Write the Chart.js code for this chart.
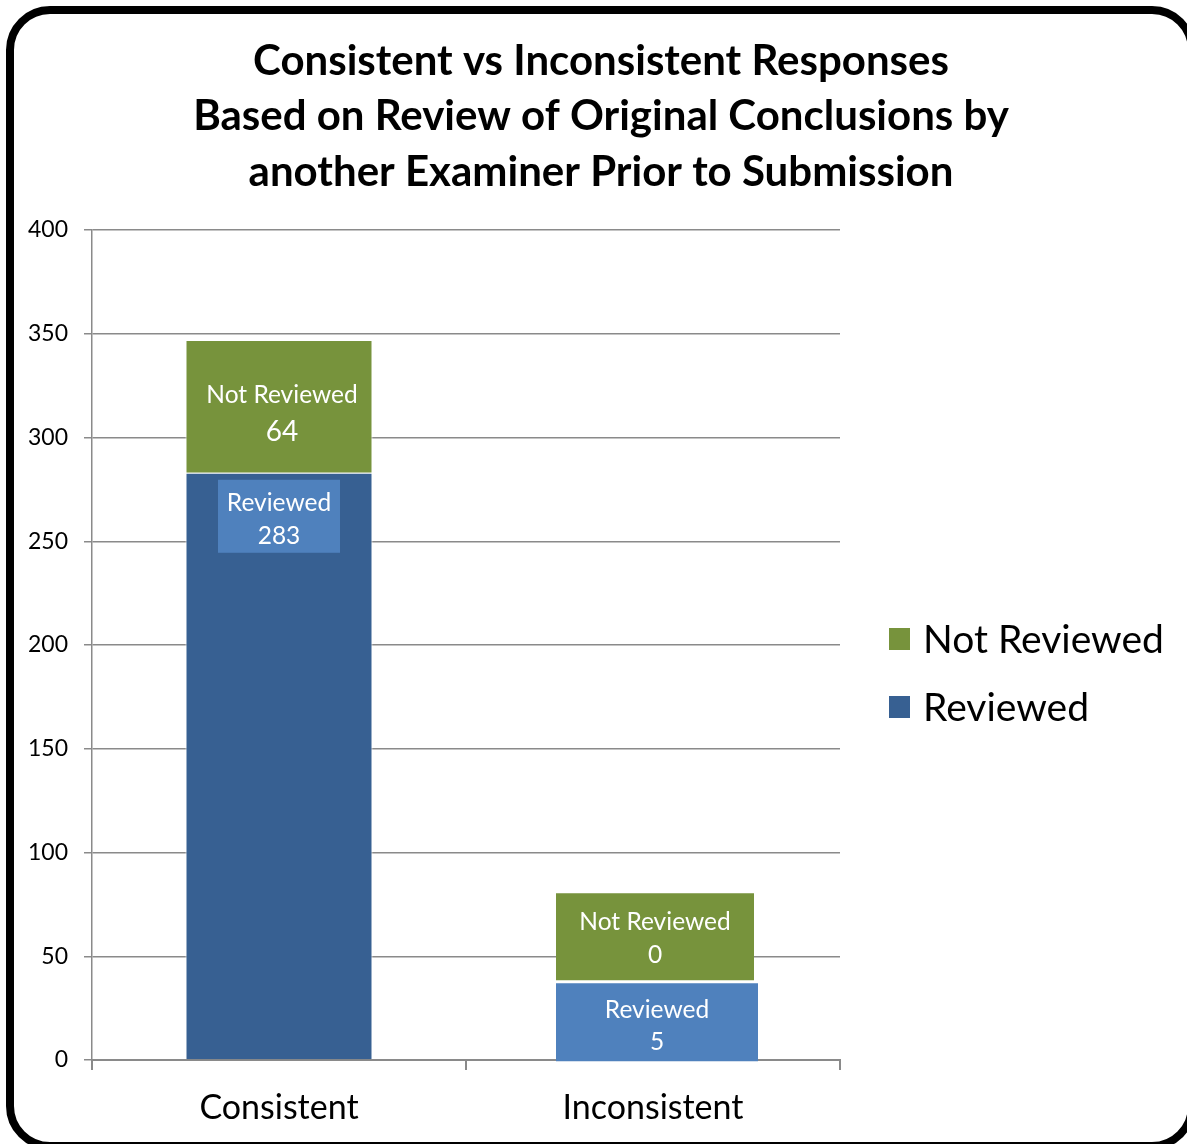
<!DOCTYPE html>
<html>
<head>
<meta charset="utf-8">
<script src="https://cdn.jsdelivr.net/npm/chart.js@4/dist/chart.umd.min.js"></script>
<style>
  html, body { margin: 0; padding: 0; background: #ffffff; overflow: hidden; }
  #frame { position: absolute; left: 6px; top: 6px; width: 1190px; height: 1144px; box-sizing: border-box;
           border: 8px solid #000; border-radius: 44px; background: #fff; }
  #c { position: absolute; left: 0; top: 0; }
</style>
</head>
<body>
<div id="frame"></div>
<canvas id="c" width="1187" height="1144"></canvas>
<script>
// ---- data ----
const categories = ['Consistent', 'Inconsistent'];
const seriesNames = ['Reviewed', 'Not Reviewed'];
const reviewed = [283, 5];
const notReviewed = [64, 0];
const yTicks = [0, 50, 100, 150, 200, 250, 300, 350, 400];
const titleLines = [
  'Consistent vs Inconsistent Responses',
  'Based on Review of Original Conclusions by',
  'another Examiner Prior to Submission'
];

const FONT = 'Lato, "Open Sans", sans-serif';
const COLORS = { reviewed: '#376092', notReviewed: '#77933C', reviewedLabel: '#4F81BD', grid: '#8a8a8a' };

const titlePlugin = {
  id: 'customTitle',
  afterDraw(chart) {
    const ctx = chart.ctx;
    ctx.save();
    ctx.fillStyle = '#000';
    ctx.font = 'bold 42px ' + FONT;
    ctx.textAlign = 'center';
    ctx.textBaseline = 'middle';
    titleLines.forEach((t, i) => ctx.fillText(t, 601, 61 + i * 55.5));
    ctx.restore();
  }
};

const legendPlugin = {
  id: 'customLegend',
  afterDraw(chart) {
    const ctx = chart.ctx;
    const area = chart.chartArea;
    const ds = chart.data.datasets.slice().reverse();
    const cy = (area.top + area.bottom) / 2;
    ctx.save();
    ctx.font = '39px ' + FONT;
    ctx.textBaseline = 'middle';
    ctx.textAlign = 'left';
    ds.forEach((d, i) => {
      const y = cy - 6 + i * 68;
      ctx.fillStyle = d.backgroundColor;
      ctx.fillRect(area.right + 49, y - 11, 21, 22);
      ctx.fillStyle = '#000';
      ctx.fillText(d.label, area.right + 83, y + 1);
    });
    ctx.restore();
  }
};

const labelPlugin = {
  id: 'barLabels',
  afterDatasetsDraw(chart) {
    const ctx = chart.ctx;
    ctx.save();
    ctx.textAlign = 'center';
    ctx.textBaseline = 'middle';
    const m0 = chart.getDatasetMeta(0).data; // Reviewed
    const m1 = chart.getDatasetMeta(1).data; // Not Reviewed
    const name0 = chart.data.datasets[0].label, name1 = chart.data.datasets[1].label;
    const v0 = chart.data.datasets[0].data, v1 = chart.data.datasets[1].data;
    const small = '24.5px ' + FONT;
    function twoLines(x, yc, a, b, fa, fb, gap) {
      ctx.fillStyle = '#fff';
      ctx.font = fa; ctx.fillText(a, x, yc - gap / 2);
      ctx.font = fb; ctx.fillText(String(b), x, yc + gap / 2);
    }
    // Consistent: Not Reviewed centred in its segment
    {
      const b = m1[0];
      twoLines(b.x + 3, (b.y + b.base) / 2 + 7, name1, v1[0], small, '28px ' + FONT, 37);
    }
    // Consistent: Reviewed in a box at the inside end
    {
      const b = m0[0];
      const w = 122, h = 73, top = b.y + 7;
      ctx.fillStyle = COLORS.reviewedLabel;
      ctx.fillRect(b.x - w / 2, top, w, h);
      twoLines(b.x, top + h / 2 + 3, name0, v0[0], small, small, 33);
    }
    // Inconsistent: Reviewed box sitting on the base
    let topBlue;
    {
      const b = m0[1];
      const w = 202, h = 78, bottom = b.base + 2;
      topBlue = bottom - h;
      ctx.fillStyle = COLORS.reviewedLabel;
      ctx.fillRect(b.x - 97, topBlue, w, h);
      twoLines(b.x + 4, topBlue + h / 2 + 4, name0, v0[1], small, small, 32);
    }
    // Inconsistent: Not Reviewed box above it
    {
      const b = m1[1];
      const w = 198, h = 87, bottom = topBlue - 3;
      ctx.fillStyle = COLORS.notReviewed;
      ctx.fillRect(b.x - 97, bottom - h, w, h);
      twoLines(b.x + 2, bottom - h + h / 2 + 2, name1, v1[1], small, small, 33);
    }
    ctx.restore();
  }
};

new Chart(document.getElementById('c'), {
  type: 'bar',
  data: {
    labels: categories,
    datasets: [
      { label: seriesNames[0], data: reviewed, backgroundColor: COLORS.reviewed, borderColor: '#ffffff', borderWidth: 1 },
      { label: seriesNames[1], data: notReviewed, backgroundColor: COLORS.notReviewed, borderColor: '#ffffff', borderWidth: 1 }
    ]
  },
  options: {
    responsive: false,
    animation: false,
    devicePixelRatio: 1,
    layout: { padding: { left: 0, top: 230, right: 347, bottom: 0 } },
    datasets: { bar: { barPercentage: 0.5, categoryPercentage: 1 } },
    plugins: { legend: { display: false }, title: { display: false }, tooltip: { enabled: false } },
    scales: {
      x: {
        stacked: true,
        offset: true,
        afterFit(s) { s.height = 84; },
        grid: { display: true, offset: true, drawOnChartArea: false, drawTicks: true, tickLength: 10, color: COLORS.grid, lineWidth: 2 },
        border: { display: true, color: COLORS.grid, width: 2 },
        ticks: { color: '#000', font: { family: FONT, size: 34 }, padding: 18 }
      },
      y: {
        stacked: true,
        min: 0, max: 400,
        afterFit(s) { s.width = 92; },
        afterBuildTicks(s) { s.ticks = yTicks.map(v => ({ value: v })); },
        grid: { color: COLORS.grid, lineWidth: 1.5, drawTicks: true, tickLength: 8 },
        border: { display: true, color: COLORS.grid, width: 1.5 },
        ticks: { color: '#000', font: { family: FONT, size: 23 }, padding: 16 }
      }
    }
  },
  plugins: [titlePlugin, legendPlugin, labelPlugin]
});
</script>
</body>
</html>
